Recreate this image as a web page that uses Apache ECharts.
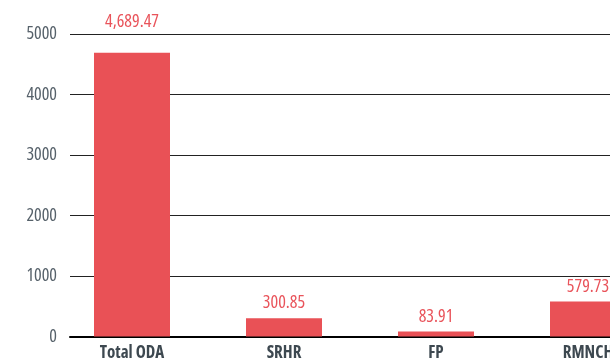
<!DOCTYPE html>
<html>
<head>
<meta charset="utf-8">
<script src="https://cdn.jsdelivr.net/npm/echarts@6/dist/echarts.min.js"></script>
<style>
  html, body { margin: 0; padding: 0; background: #fff; }
  #chart { width: 610px; height: 361px; }
</style>
</head>
<body>
<div id="chart"></div>
<script>
// Funding amounts by category
const categories = ['Total ODA', 'SRHR', 'FP', 'RMNCH'];
const amounts = [4689.47, 300.85, 83.91, 579.73];
const yTicks = [0, 1000, 2000, 3000, 4000, 5000];

// Condensed face of Open Sans (the "condensed" keyword goes into the font shorthand)
const FONT = "'Open Sans', sans-serif";
const STRETCH = 'condensed';
const BAR_RED = '#e95156';

const chart = echarts.init(document.getElementById('chart'));

const fmt = v => v.toLocaleString('en-US', { minimumFractionDigits: 2, maximumFractionDigits: 2 });

const barData = categories.map((c, i) => ({
  value: [i, amounts[i]],
  label: { distance: i === 0 ? 22 : 6 }
}));

chart.setOption({
  animation: false,
  grid: { left: 70, right: 0, top: 34, bottom: 24.5, outerBoundsMode: 'none', containLabel: false },
  xAxis: {
    type: 'value',
    min: -62 / 152,
    max: -62 / 152 + 540 / 152,
    splitLine: { show: false },
    axisTick: { show: false },
    axisLine: { show: true, onZero: false, lineStyle: { color: '#000', width: 2 } },
    axisLabel: {
      customValues: categories.map((c, i) => i),
      formatter: v => categories[Math.round(v)] || '',
      margin: 8,
      fontFamily: FONT,
      fontStyle: STRETCH,
      fontSize: 17,
      fontWeight: 'bold',
      color: '#3d4850',
      hideOverlap: false
    }
  },
  yAxis: {
    type: 'value',
    min: yTicks[0],
    max: yTicks[yTicks.length - 1],
    interval: 1000,
    axisLine: { show: false },
    axisTick: { show: false },
    splitLine: { lineStyle: { color: '#222', width: 1 } },
    axisLabel: {
      margin: 13,
      formatter: v => String(v),
      fontFamily: FONT,
      fontStyle: STRETCH,
      fontSize: 18,
      color: '#56616a'
    }
  },
  series: [{
    type: 'bar',
    data: barData,
    barWidth: 76,
    itemStyle: { color: BAR_RED },
    label: {
      show: true,
      position: 'top',
      formatter: p => fmt(p.value[1]),
      fontFamily: FONT,
      fontStyle: STRETCH,
      fontSize: 18,
      color: '#e9545b'
    }
  }]
});
</script>
</body>
</html>
